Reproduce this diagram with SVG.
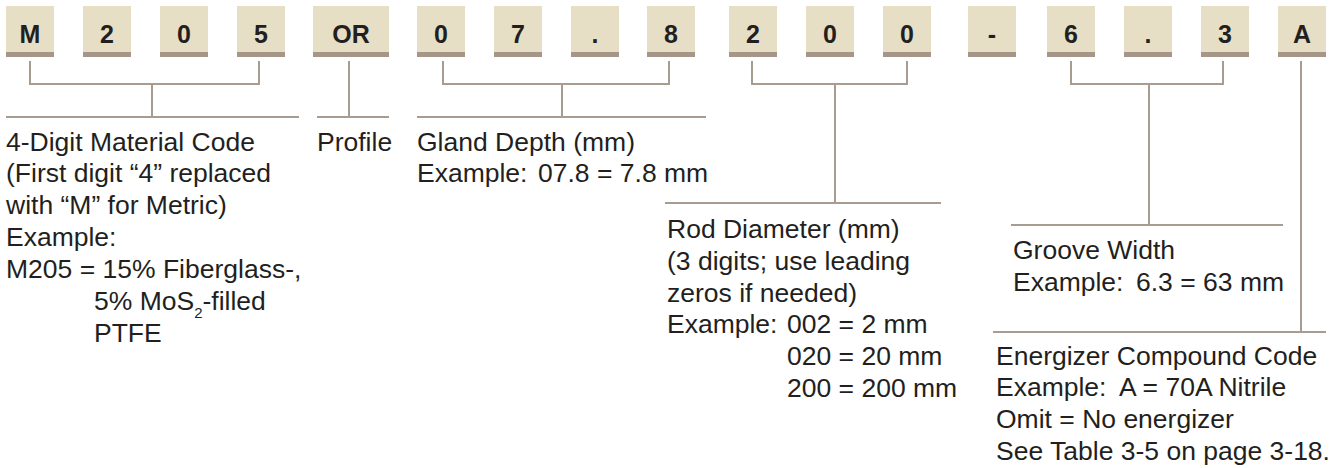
<svg xmlns="http://www.w3.org/2000/svg" width="1340" height="468" viewBox="0 0 1340 468">
<style>
.box{fill:#e6dfc6}
.bar{fill:#a69688}
.code{font-family:"Liberation Sans",Arial,sans-serif;font-weight:bold;font-size:25px;fill:#231f20;text-anchor:middle}
.lbl{font-family:"Liberation Sans",Arial,sans-serif;font-size:26.5px;fill:#231f20}
.sub{font-size:15px}
.conn{fill:none;stroke:#a89b90;stroke-width:2}
</style>
<rect width="1340" height="468" fill="#ffffff"/>
<g id="codes">
<g id="c1"><rect class="box" x="6" y="6" width="48" height="47"/><rect class="bar" x="6" y="52" width="48" height="5"/><text class="code" x="30" y="43">M</text></g>
<g id="c2"><rect class="box" x="83" y="6" width="48" height="47"/><rect class="bar" x="83" y="52" width="48" height="5"/><text class="code" x="107" y="43">2</text></g>
<g id="c3"><rect class="box" x="160" y="6" width="48" height="47"/><rect class="bar" x="160" y="52" width="48" height="5"/><text class="code" x="184" y="43">0</text></g>
<g id="c4"><rect class="box" x="237" y="6" width="48" height="47"/><rect class="bar" x="237" y="52" width="48" height="5"/><text class="code" x="261" y="43">5</text></g>
<g id="c5"><rect class="box" x="313" y="6" width="76" height="47"/><rect class="bar" x="313" y="52" width="76" height="5"/><text class="code" x="351" y="43">OR</text></g>
<g id="c6"><rect class="box" x="417" y="6" width="48" height="47"/><rect class="bar" x="417" y="52" width="48" height="5"/><text class="code" x="441" y="43">0</text></g>
<g id="c7"><rect class="box" x="494" y="6" width="48" height="47"/><rect class="bar" x="494" y="52" width="48" height="5"/><text class="code" x="518" y="43">7</text></g>
<g id="c8"><rect class="box" x="571" y="6" width="48" height="47"/><rect class="bar" x="571" y="52" width="48" height="5"/><text class="code" x="595" y="43">.</text></g>
<g id="c9"><rect class="box" x="647" y="6" width="48" height="47"/><rect class="bar" x="647" y="52" width="48" height="5"/><text class="code" x="671" y="43">8</text></g>
<g id="c10"><rect class="box" x="729" y="6" width="48" height="47"/><rect class="bar" x="729" y="52" width="48" height="5"/><text class="code" x="753" y="43">2</text></g>
<g id="c11"><rect class="box" x="806" y="6" width="48" height="47"/><rect class="bar" x="806" y="52" width="48" height="5"/><text class="code" x="830" y="43">0</text></g>
<g id="c12"><rect class="box" x="883" y="6" width="48" height="47"/><rect class="bar" x="883" y="52" width="48" height="5"/><text class="code" x="907" y="43">0</text></g>
<g id="c13"><rect class="box" x="968" y="6" width="48" height="47"/><rect class="bar" x="968" y="52" width="48" height="5"/><text class="code" x="992" y="43">-</text></g>
<g id="c14"><rect class="box" x="1047" y="6" width="48" height="47"/><rect class="bar" x="1047" y="52" width="48" height="5"/><text class="code" x="1071" y="43">6</text></g>
<g id="c15"><rect class="box" x="1124" y="6" width="48" height="47"/><rect class="bar" x="1124" y="52" width="48" height="5"/><text class="code" x="1148" y="43">.</text></g>
<g id="c16"><rect class="box" x="1201" y="6" width="48" height="47"/><rect class="bar" x="1201" y="52" width="48" height="5"/><text class="code" x="1225" y="43">3</text></g>
<g id="c17"><rect class="box" x="1278" y="6" width="48" height="47"/><rect class="bar" x="1278" y="52" width="48" height="5"/><text class="code" x="1302" y="43">A</text></g>
</g>
<g id="connectors">
<path class="conn" d="M30 61V84H259V61M152 84V117M6 117H299"/>
<path class="conn" d="M349 61V117M317 117H389"/>
<path class="conn" d="M443 61V84H669V61M562 84V117M417 117H706"/>
<path class="conn" d="M752 61V84H907V61M835 84V203M665 203H941"/>
<path class="conn" d="M1071 61V84H1223V61M1149 84V225M1011 225H1283"/>
<path class="conn" d="M1301 61V332M993 332H1326"/>
</g>
<g id="material">
<text class="lbl" x="6" y="150.5">4-Digit Material Code</text>
<text class="lbl" x="6" y="182.3">(First digit “4” replaced</text>
<text class="lbl" x="6" y="214">with “M” for Metric)</text>
<text class="lbl" x="6" y="246">Example:</text>
<text class="lbl" x="6" y="277.5">M205 = 15% Fiberglass-,</text>
<text class="lbl" x="94" y="310">5% MoS<tspan class="sub" dy="8">2</tspan><tspan dy="-8">-filled</tspan></text>
<text class="lbl" x="94" y="341.5">PTFE</text>
</g>
<g id="profile">
<text class="lbl" x="317" y="150.5">Profile</text>
</g>
<g id="gland">
<text class="lbl" x="417" y="150.5">Gland Depth (mm)</text>
<text class="lbl" x="417" y="182.3">Example:<tspan x="538">07.8 = 7.8 mm</tspan></text>
</g>
<g id="rod">
<text class="lbl" x="667" y="238.3">Rod Diameter (mm)</text>
<text class="lbl" x="667" y="270">(3 digits; use leading</text>
<text class="lbl" x="667" y="301.7">zeros if needed)</text>
<text class="lbl" x="667" y="333.3">Example:<tspan x="787">002 = 2 mm</tspan></text>
<text class="lbl" x="787" y="365">020 = 20 mm</text>
<text class="lbl" x="787" y="396.5">200 = 200 mm</text>
</g>
<g id="groove">
<text class="lbl" x="1013" y="259">Groove Width</text>
<text class="lbl" x="1013" y="290.5">Example:<tspan x="1136">6.3 = 63 mm</tspan></text>
</g>
<g id="energizer">
<text class="lbl" x="996" y="364.5">Energizer Compound Code</text>
<text class="lbl" x="996" y="396.2">Example:<tspan x="1119">A = 70A Nitrile</tspan></text>
<text class="lbl" x="996" y="427.8">Omit = No energizer</text>
<text class="lbl" x="996" y="459.5">See Table 3-5 on page 3-18.</text>
</g>
</svg>
